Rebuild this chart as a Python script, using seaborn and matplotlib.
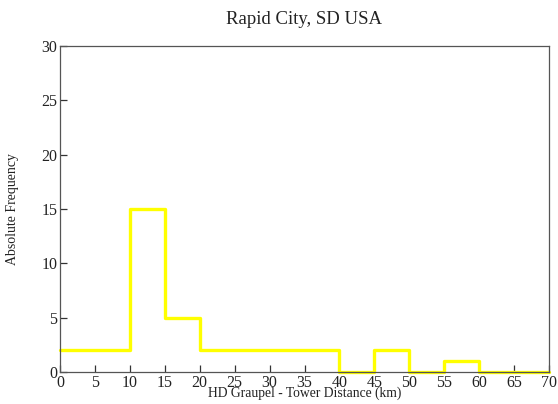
import matplotlib.pyplot as plt
import seaborn as sns

bin_edges = [0, 5, 10, 15, 20, 25, 30, 35, 40, 45, 50, 55, 60, 65, 70]
counts = [2, 2, 15, 5, 2, 2, 2, 2, 0, 2, 0, 1, 0, 0]
x_ticks = list(range(0, 75, 5))
y_ticks = [0, 5, 10, 15, 20, 25, 30]

sns.set_theme(style="white")
plt.rcParams['font.family'] = ['Liberation Serif', 'DejaVu Serif']

fig = plt.figure(figsize=(5.58, 4.04), dpi=100)
ax = fig.add_axes([60 / 558, 1 - 372 / 404, 489 / 558, 326 / 404])

sns.histplot(x=bin_edges[:-1], weights=counts, bins=bin_edges, element='step',
             fill=False, color='#ffff00', linewidth=2.4, ax=ax)
for art in ax.lines + list(ax.patches) + list(ax.collections):
    art.set_clip_on(False)

ax.set_xlim(0, 70)
ax.set_ylim(0, 30)
ax.set_xticks(x_ticks)
ax.set_yticks(y_ticks)
ax.tick_params(direction='in', length=5, width=0.9, color='#333333', labelsize=11.5,
               labelcolor='#222222', bottom=True, left=True, top=False, right=False, pad=2)
for s in ax.spines.values():
    s.set_color('#555555')
    s.set_linewidth(0.9)

ax.set_xlabel('HD Graupel - Tower Distance (km)', fontsize=9.8, color='#222222')
ax.xaxis.set_label_coords(0.5, -0.066)
ax.xaxis.label.set_va('center')
ax.set_ylabel('Absolute Frequency', fontsize=10, color='#222222')
ax.yaxis.set_label_coords(-47 / 489, 0.5)
ax.yaxis.label.set_va('center')
ax.set_title('Rapid City, SD USA', fontsize=13.5, pad=16, color='#222222')

plt.savefig('out.png', dpi=100)
